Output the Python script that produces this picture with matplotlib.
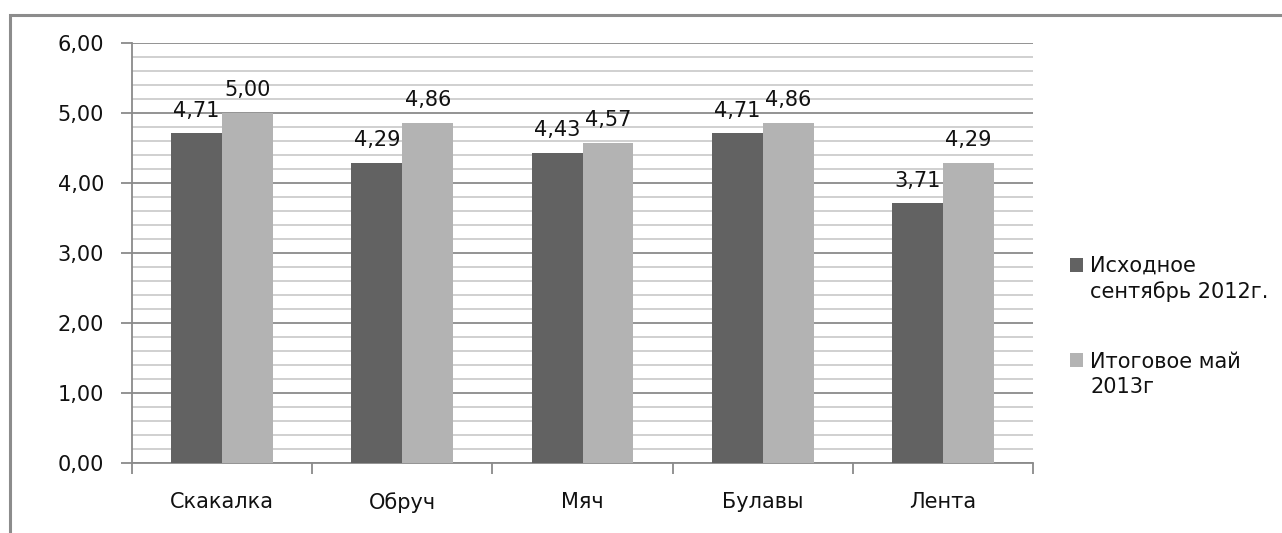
import numpy as np
import matplotlib
matplotlib.use('Agg')
import matplotlib.pyplot as plt
from matplotlib.ticker import FuncFormatter, MultipleLocator, FixedLocator
from matplotlib.patches import Rectangle

# chart data
categories = ['Скакалка', 'Обруч', 'Мяч', 'Булавы', 'Лента']
series_names = ['Исходное\nсентябрь 2012г.', 'Итоговое май\n2013г']
start_vals = [4.71, 4.29, 4.43, 4.71, 3.71]
final_vals = [5.00, 4.86, 4.57, 4.86, 4.29]
y_ticks = [0, 1, 2, 3, 4, 5, 6]

DARK = '#626262'
LIGHT = '#b3b3b3'
MAJOR_GRID = '#8a8a8a'
MINOR_GRID = '#c4c4c4'
TXT = '#111111'
FS = 15

plt.rcParams['font.family'] = ['DejaVu Sans']

def comma_fmt(v, pos=None):
    return f'{v:.2f}'.replace('.', ',')

W, H = 1282, 533
fig = plt.figure(figsize=(W/100, H/100), dpi=100)
ax = fig.add_axes([132/W, 70/H, (1033-132)/W, (463-43)/H])

x = np.arange(len(categories))
w = 0.283
b1 = ax.bar(x - w/2, start_vals, w, color=DARK, zorder=3)
b2 = ax.bar(x + w/2, final_vals, w, color=LIGHT, zorder=3)

for bars, vals in ((b1, start_vals), (b2, final_vals)):
    for rect, v in zip(bars, vals):
        ax.annotate(comma_fmt(v), (rect.get_x() + rect.get_width()/2, v),
                    xytext=(0, 12), textcoords='offset points',
                    ha='center', va='baseline', fontsize=FS, color=TXT, zorder=4)

ax.set_xlim(-0.5, len(categories) - 0.5)
ax.set_ylim(0, 6)

# gridlines: major every 1, minor every 0.2
ax.yaxis.set_major_locator(FixedLocator(y_ticks))
ax.yaxis.set_minor_locator(MultipleLocator(0.2))
ax.yaxis.set_major_formatter(FuncFormatter(comma_fmt))
ax.grid(which='major', axis='y', color=MAJOR_GRID, lw=1.3, zorder=1)
ax.grid(which='minor', axis='y', color=MINOR_GRID, lw=1.1, zorder=1)

ax.set_xticks(x)
ax.set_xticklabels(categories)
ax.xaxis.set_minor_locator(FixedLocator(np.arange(-0.5, len(categories), 1.0)))

ax.tick_params(axis='y', which='major', length=8, width=1.3, color=MAJOR_GRID,
               labelsize=FS, pad=12, labelcolor=TXT)
ax.tick_params(axis='y', which='minor', length=0)
ax.tick_params(axis='x', which='major', length=0, labelsize=FS, pad=21, labelcolor=TXT)
ax.tick_params(axis='x', which='minor', length=8, width=1.3, color=MAJOR_GRID)

for side in ('top', 'right'):
    ax.spines[side].set_visible(False)
for side in ('left', 'bottom'):
    ax.spines[side].set_color(MAJOR_GRID)
    ax.spines[side].set_linewidth(1.3)

# legend: square aligned with first line of each label
# (multi-line text with va='baseline' anchors on the last line, so shift by one line)
leg_baselines = [273, 368]
line_px = 25
for name, col, base in zip(series_names, (DARK, LIGHT), leg_baselines):
    fig.patches.append(Rectangle((1070/W, (H - base + 1)/H), 13/W, 14/H,
                                 transform=fig.transFigure, fc=col, ec='none'))
    n_extra = name.count('\n')
    fig.text(1090/W, (H - base - n_extra*line_px)/H, name, fontsize=FS, color=TXT,
             ha='left', va='baseline', linespacing=1.3)

# outer chart border (cut off at right and bottom)
fig.patches.append(Rectangle((10/W, -0.1), 1.2, 1 - 15/H + 0.1,
                             transform=fig.transFigure, fill=False,
                             ec='#8c8c8c', lw=2.2))

fig.savefig('out.png', dpi=100)
